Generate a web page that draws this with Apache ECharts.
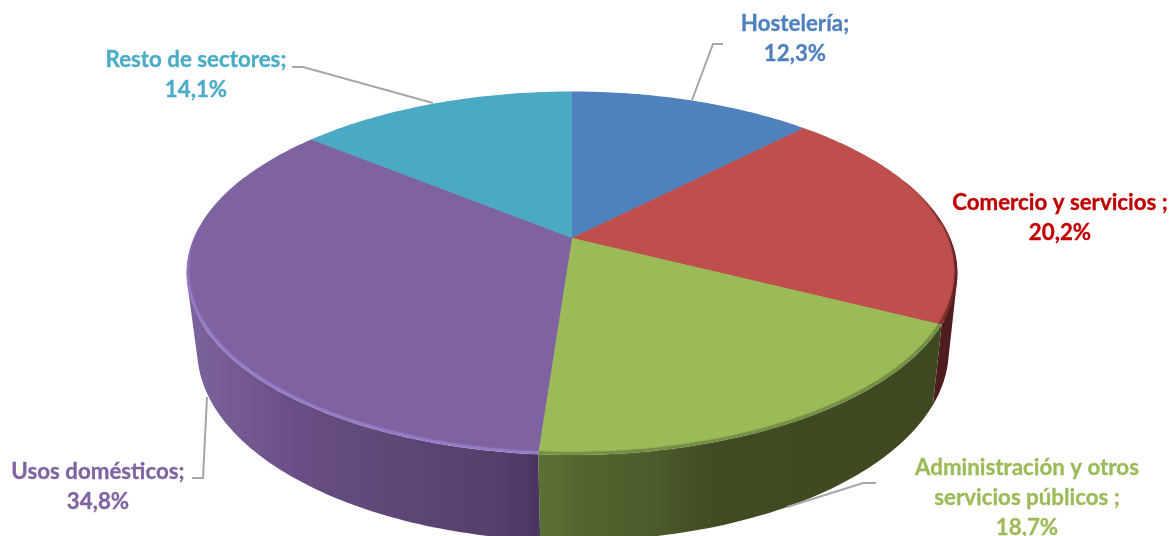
<!DOCTYPE html>
<html><head><meta charset="utf-8">
<style>html,body{margin:0;padding:0;background:#fff}#c{width:1169px;height:536px}</style>
<script src="https://cdn.jsdelivr.net/npm/echarts@6/dist/echarts.min.js"></script>
</head><body><div id="c"></div>
<script>
// ---- data ----
const categories = ['Hostelería;', 'Comercio y servicios ;', 'Administración y otros\nservicios públicos ;', 'Usos domésticos;', 'Resto de sectores;'];
const values = [12.3, 20.2, 18.7, 34.8, 14.1];

// ---- styles & layout ----
const faceColors = ['#4F81BD', '#BE4F4C', '#9BBB59', '#7F62A0', '#4BA9C4'];
const labelColors = ['#4F81BD', '#C00000', '#9BBB59', '#8064A2', '#4BACC6'];
const labelPos = [[795, 39], [1060, 218], [1027, 498], [98, 487], [196, 75]];
const leaders = [
  [[692, 100], [713, 44], [723, 44]],
  null,
  [[787, 507], [863, 483], [876, 483]],
  [[207, 397], [203, 478], [192, 478]],
  [[433, 103], [303, 67], [292, 67]]
];
const APEX_X = 572;
const faceGeo = {ax: APEX_X, ay: 238, R: 375, S: 173.2, k: 0.1866};
const rimGeo = {ax: APEX_X, ay: 238, R: 378, S: 174.9, k: 0.194};
const baseGeo = {ax: APEX_X + 1, ay: 314, R: 369, S: 184, k: 0.189};
const WALL_FROM = 70, WALL_TO = 292, SOFT_FROM = 85, SOFT_TO = 272;
const total = values.reduce((a, b) => a + b, 0);
const LG = (x0, x1, stops) => new echarts.graphic.LinearGradient(x0, 0, x1, 0,
  stops.map(s => ({offset: s[0], color: s[1]})), true);
const VG = (y0, y1, stops) => new echarts.graphic.LinearGradient(0, y0, 0, y1,
  stops.map(s => ({offset: s[0], color: s[1]})), true);
const wallFill = [
  null,
  '#4F1C1F',
  LG(540, 940, [[0, '#5C7033'], [0.12, '#526430'], [0.28, '#4C5C2B'], [0.44, '#3F4B23'], [1, '#3E4922']]),
  LG(197, 540, [[0, '#7C629A'], [0.3, '#684E84'], [0.6, '#5E4676'], [0.88, '#553F6B'], [1, '#4A3560']]),
  null
];
const rimColors = [
  '#4F81BD',
  LG(880, 955, [[0, '#BE4F4C'], [0.55, '#B04845'], [0.9, '#6A2A2A'], [1, '#4F1C1F']]),
  '#6F8840',
  VG(225, 290, [[0, '#7F62A0'], [1, '#9A80CC']]),
  '#4BA9C4'
];

function proj(deg, g) {
  const t = deg * Math.PI / 180, X = Math.sin(t), Y = -Math.cos(t), w = 1 - g.k * Y;
  return [g.ax + g.R * X / w, g.ay + g.S * Y / w];
}
function arc(a, b, g) {
  const n = Math.max(2, Math.ceil(Math.abs(b - a))), pts = [];
  for (let i = 0; i <= n; i++) pts.push(proj(a + (b - a) * i / n, g));
  return pts;
}
function wallPath(a, b) {
  const top = arc(a, b, rimGeo), bot = arc(a, b, baseGeo);
  let d = '';
  for (let i = 0; i < top.length - 1; i++) {
    let q = [top[i], top[i + 1], bot[i + 1], bot[i]], area = 0;
    for (let j = 0; j < 4; j++) {
      const p = q[j], r = q[(j + 1) % 4];
      area += p[0] * r[1] - r[0] * p[1];
    }
    if (area < 0) q = q.reverse();
    d += 'M' + q.map(p => p[0].toFixed(2) + ' ' + p[1].toFixed(2)).join('L') + 'Z';
  }
  return d;
}

function renderItem(params, api) {
  const i = params.dataIndex, val = api.value(0);
  let before = 0;
  for (let j = 0; j < i; j++) before += values[j];
  const a = before / total * 360, b = (before + val) / total * 360;
  const kids = [];
  // side wall
  const wa = Math.max(a, WALL_FROM), wb = Math.min(b, WALL_TO);
  if (wb > wa && wallFill[i]) {
    kids.push({type: 'path', z2: 1, shape: {pathData: wallPath(wa, wb)}, style: {fill: wallFill[i]}});
  }
  // bevel
  kids.push({type: 'polygon', z2: 2, shape: {points: [[rimGeo.ax, rimGeo.ay]].concat(arc(a, b, rimGeo))},
    style: {fill: rimColors[i]}});
  // soft inner edge of the bevel, only along the front
  const sa = Math.max(a, SOFT_FROM), sb = Math.min(b, SOFT_TO);
  if (sb > sa) {
    kids.push({type: 'polyline', z2: 3, shape: {points: arc(sa, sb, faceGeo)},
      style: {fill: 'none', stroke: faceColors[i], lineWidth: 2, opacity: 0.75, shadowBlur: 5, shadowColor: faceColors[i]}});
  }
  // top face
  kids.push({type: 'polygon', z2: 4, shape: {points: [[faceGeo.ax, faceGeo.ay]].concat(arc(a, b, faceGeo))},
    style: {fill: faceColors[i]}});
  // leader
  if (leaders[i]) {
    kids.push({type: 'polyline', z2: i === 2 ? 5 : 0, shape: {points: leaders[i]},
      style: {fill: 'none', stroke: '#A6A6A6', lineWidth: 2}});
  }
  // label
  const pct = val.toFixed(1).replace('.', ',') + '%';
  kids.push({type: 'text', z2: 6, x: labelPos[i][0], y: labelPos[i][1],
    style: {text: categories[i] + '\n' + pct, fill: labelColors[i], stroke: labelColors[i], lineWidth: 0.3,
      font: 'bold 22.3px Lato, sans-serif', lineHeight: 30, align: 'center', verticalAlign: 'middle'}});
  return {type: 'group', children: kids};
}

const chart = echarts.init(document.getElementById('c'), null, {renderer: 'canvas'});
chart.setOption({
  animation: false,
  backgroundColor: '#fff',
  series: [{
    type: 'custom',
    coordinateSystem: 'none',
    silent: true,
    clip: false,
    renderItem,
    data: values.map((v, i) => ({name: categories[i], value: [v]}))
  }]
});
</script></body></html>
